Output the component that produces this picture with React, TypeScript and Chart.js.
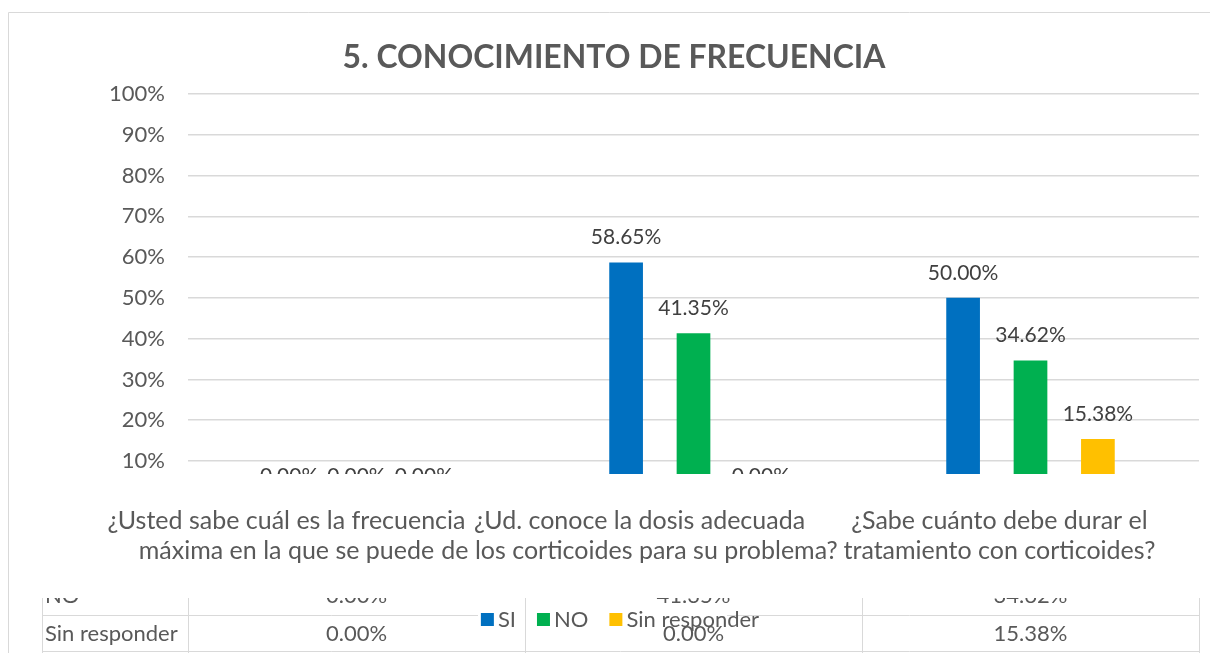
import React, { useEffect, useRef } from "react";
import { Chart, registerables } from "chart.js";

Chart.register(...registerables);

// ---------- data ----------
const chartTitle = "5. CONOCIMIENTO DE FRECUENCIA";
const categories: string[][] = [
  ["¿Usted sabe cuál es la frecuencia", "máxima en la que se puede"],
  ["¿Ud. conoce la dosis adecuada", "de los corticoides para su problema?"],
  ["¿Sabe cuánto debe durar el", "tratamiento con corticoides?"],
];
const seriesNames = ["SI", "NO", "Sin responder"];
const siValues = [0.0, 58.65, 50.0];
const noValues = [0.0, 41.35, 34.62];
const sinResponderValues = [0.0, 0.0, 15.38];
const yTickValues = [10, 20, 30, 40, 50, 60, 70, 80, 90, 100];

// ---------- styles ----------
const seriesColors = ["#0070C0", "#00B050", "#FFC000"];
const FONT = "Lato, 'Open Sans', sans-serif";
const TEXT = "#595959";
const LABEL = "#404040";
const GRID = "#d9d9d9";
const W = 1210;
const H = 653;
const catLabelShift = [-70, -54, -31];

const fmt = (v: number) => v.toFixed(2) + "%";

const extrasPlugin = {
  id: "extras",
  afterDraw(chart: any) {
    const ctx: CanvasRenderingContext2D = chart.ctx;
    const area = chart.chartArea;
    const xs = chart.scales.x;
    const ys = chart.scales.y;

    ctx.save();
    // outer border
    ctx.strokeStyle = GRID;
    ctx.lineWidth = 1;
    ctx.beginPath();
    ctx.moveTo(8.5, H);
    ctx.lineTo(8.5, 12.5);
    ctx.lineTo(W, 12.5);
    ctx.stroke();

    // title (fit to reference width)
    let ts = 32;
    ctx.font = `bold ${ts}px ${FONT}`;
    const tw = ctx.measureText(chartTitle).width;
    ts = ts * (543 / tw);
    ctx.font = `bold ${ts}px ${FONT}`;
    ctx.fillStyle = TEXT;
    ctx.textAlign = "center";
    ctx.textBaseline = "middle";
    ctx.fillText(chartTitle, 614, 58);

    // data labels (clipped to plot bottom)
    ctx.save();
    ctx.beginPath();
    ctx.rect(0, 0, W, area.bottom);
    ctx.clip();
    ctx.font = `21px ${FONT}`;
    ctx.fillStyle = LABEL;
    chart.data.datasets.forEach((ds: any, i: number) => {
      const meta = chart.getDatasetMeta(i);
      meta.data.forEach((bar: any, j: number) => {
        const v = ds.data[j];
        const y = ys.getPixelForValue(v) - 25;
        ctx.fillText(fmt(v), bar.x, y);
      });
    });
    ctx.restore();

    // category labels
    ctx.font = `25px ${FONT}`;
    ctx.fillStyle = TEXT;
    categories.forEach((lines, j) => {
      const cx = xs.getPixelForValue(j) + catLabelShift[j];
      lines.forEach((ln, k) => {
        ctx.fillText(ln, cx, 521 + k * 30);
      });
    });

    // data table (cropped)
    const colW = (area.right - area.left) / categories.length;
    const tableLeft = 42;
    const topY = 598;
    ctx.strokeStyle = GRID;
    ctx.beginPath();
    ctx.moveTo(tableLeft, 615.5);
    ctx.lineTo(area.right, 615.5);
    ctx.moveTo(tableLeft, 651.5);
    ctx.lineTo(area.right, 651.5);
    ctx.stroke();

    // legend backdrop hides row line
    ctx.fillStyle = "#ffffff";
    ctx.fillRect(478, 607, 249, 20);

    ctx.beginPath();
    const vx = [tableLeft, area.left];
    for (let k = 1; k <= categories.length; k++) vx.push(area.left + k * colW);
    vx.forEach((x) => {
      const px = Math.round(x) + 0.5;
      ctx.moveTo(px, topY);
      ctx.lineTo(px, H);
    });
    ctx.stroke();

    // legend
    ctx.font = `22px ${FONT}`;
    ctx.textAlign = "left";
    const box = 13;
    const gapIn = 4;
    const gapOut = 21;
    const widths = seriesNames.map((n) => ctx.measureText(n).width);
    const total =
      widths.reduce((a, b) => a + b, 0) + seriesNames.length * (box + gapIn) + (seriesNames.length - 1) * gapOut;
    let lx = 620 - total / 2;
    seriesNames.forEach((n, i) => {
      ctx.fillStyle = seriesColors[i];
      ctx.fillRect(lx, 613, box, box);
      lx += box + gapIn;
      ctx.fillStyle = TEXT;
      ctx.fillText(n, lx, 620);
      lx += widths[i] + gapOut;
    });

    // table text
    ctx.save();
    ctx.beginPath();
    ctx.rect(0, topY, W, H - topY);
    ctx.clip();
    ctx.font = `22px ${FONT}`;
    ctx.fillStyle = TEXT;
    const rows = [
      { name: seriesNames[1], vals: noValues, y: 596 },
      { name: seriesNames[2], vals: sinResponderValues, y: 634 },
    ];
    rows.forEach((r) => {
      ctx.textAlign = "left";
      ctx.fillText(r.name, 45, r.y);
      ctx.textAlign = "center";
      r.vals.forEach((v, j) => {
        ctx.fillText(fmt(v), area.left + colW * (j + 0.5), r.y);
      });
    });
    ctx.restore();

    ctx.restore();
  },
};

export default function App() {
  const ref = useRef<HTMLCanvasElement | null>(null);
  useEffect(() => {
    if (!ref.current) return;
    const chart = new Chart(ref.current, {
      type: "bar",
      data: {
        labels: categories.map((c) => c.join(" ")),
        datasets: [
          { label: seriesNames[0], data: siValues, backgroundColor: seriesColors[0] },
          { label: seriesNames[1], data: noValues, backgroundColor: seriesColors[1] },
          { label: seriesNames[2], data: sinResponderValues, backgroundColor: seriesColors[2] },
        ],
      },
      options: {
        responsive: false,
        animation: false,
        devicePixelRatio: 1,
        datasets: { bar: { barPercentage: 0.5, categoryPercentage: 0.6 } },
        layout: { padding: { top: 94, bottom: 179, left: 0, right: 11 } },
        scales: {
          x: { display: false },
          y: {
            min: 6.8,
            max: 100,
            afterBuildTicks: (s: any) => {
              s.ticks = yTickValues.map((v) => ({ value: v }));
            },
            afterFit: (s: any) => {
              s.width = 188;
            },
            ticks: {
              callback: (v: any) => v + "%",
              color: TEXT,
              font: { family: FONT, size: 22 },
              padding: 23,
            },
            grid: { color: GRID, drawTicks: false, lineWidth: 1.5 },
            border: { display: false },
          },
        },
        plugins: {
          legend: { display: false },
          title: { display: false },
          tooltip: { enabled: false },
        },
      },
      plugins: [extrasPlugin],
    });
    return () => chart.destroy();
  }, []);
  return (
    <div style={{ position: "fixed", left: 0, top: 0, width: W, height: H, background: "#fff" }}>
      <canvas ref={ref} width={W} height={H} style={{ width: W, height: H, display: "block" }} />
    </div>
  );
}
